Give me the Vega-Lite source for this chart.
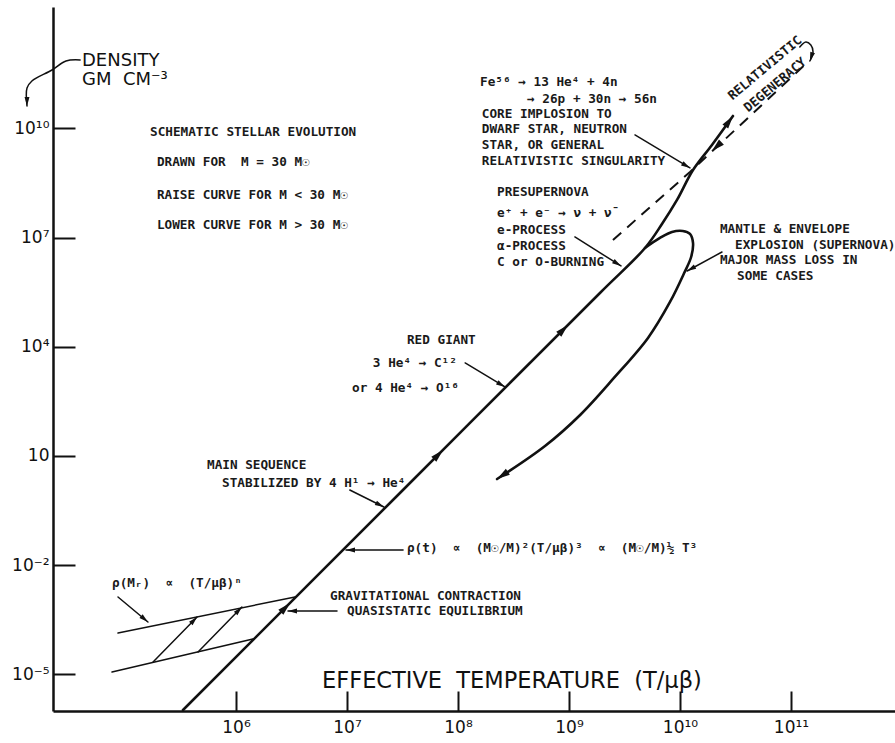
{
  "$schema": "https://vega.github.io/schema/vega-lite/v6.json",
  "width": 842,
  "height": 704,
  "autosize": {"type": "none"},
  "padding": {"left": 53, "top": 7, "right": 0, "bottom": 32},
  "background": "white",
  "config": {
    "view": {"stroke": null},
    "axis": {
      "grid": false,
      "title": null,
      "domainColor": "#111111",
      "domainWidth": 2.5,
      "tickColor": "#111111",
      "tickWidth": 2,
      "labelColor": "#111111",
      "labelFont": "DejaVu Sans",
      "labelFontSize": 17,
      "labelOverlap": false,
      "labelBound": false,
      "labelFlush": false
    }
  },
  "datasets": {
    "curves": [
      {"id": "main", "seq": 1, "T": 3.33e5, "rho": 1.05e-6},
      {"id": "main", "seq": 2, "T": 3.00e7, "rho": 0.963},
      {"id": "main", "seq": 3, "T": 1.90e9, "rho": 3.01e5},
      {"id": "main", "seq": 4, "T": 4.84e9, "rho": 5.18e6},
      {"id": "main", "seq": 5, "T": 6.88e9, "rho": 2.36e7},
      {"id": "main", "seq": 6, "T": 9.40e9, "rho": 1.08e8},
      {"id": "main", "seq": 7, "T": 1.31e10, "rho": 7.19e8},
      {"id": "main", "seq": 8, "T": 1.94e10, "rho": 3.50e9},
      {"id": "main", "seq": 9, "T": 3.00e10, "rho": 2.19e10},
      {"id": "loop", "seq": 1, "T": 4.84e9, "rho": 5.18e6},
      {"id": "loop", "seq": 2, "T": 6.60e9, "rho": 9.75e6},
      {"id": "loop", "seq": 3, "T": 8.47e9, "rho": 1.43e7},
      {"id": "loop", "seq": 4, "T": 1.06e10, "rho": 1.52e7},
      {"id": "loop", "seq": 5, "T": 1.23e10, "rho": 1.26e7},
      {"id": "loop", "seq": 6, "T": 1.31e10, "rho": 7.11e6},
      {"id": "loop", "seq": 7, "T": 1.26e10, "rho": 2.93e6},
      {"id": "loop", "seq": 8, "T": 1.09e10, "rho": 1.06e6},
      {"id": "loop", "seq": 9, "T": 8.13e9, "rho": 1.70e5},
      {"id": "loop", "seq": 10, "T": 5.15e9, "rho": 1.75e4},
      {"id": "loop", "seq": 11, "T": 2.54e9, "rho": 1.39e3},
      {"id": "loop", "seq": 12, "T": 1.26e9, "rho": 134},
      {"id": "loop", "seq": 13, "T": 6.08e8, "rho": 18.8},
      {"id": "loop", "seq": 14, "T": 2.25e8, "rho": 2.33},
      {"id": "dashed", "seq": 1, "T": 2.49e9, "rho": 8.59e6},
      {"id": "dashed", "seq": 2, "T": 1.23e10, "rho": 6.34e8},
      {"id": "dashed", "seq": 3, "T": 1.42e11, "rho": 6.67e11},
      {"id": "hook", "seq": 1, "T": 1.20e11, "rho": 1.72e12},
      {"id": "hook", "seq": 2, "T": 1.36e11, "rho": 2.37e12},
      {"id": "hook", "seq": 3, "T": 1.51e11, "rho": 1.95e12},
      {"id": "hook", "seq": 4, "T": 1.58e11, "rho": 1.26e12},
      {"id": "hook", "seq": 5, "T": 1.48e11, "rho": 7.11e11},
      {"id": "hay_upper", "seq": 1, "T": 8.65e4, "rho": 1.37e-4},
      {"id": "hay_upper", "seq": 2, "T": 3.40e6, "rho": 1.34e-3},
      {"id": "hay_lower", "seq": 1, "T": 7.64e4, "rho": 1.16e-5},
      {"id": "hay_lower", "seq": 2, "T": 1.42e6, "rho": 9.40e-5},
      {"id": "diag1", "seq": 1, "T": 1.79e5, "rho": 2.19e-5},
      {"id": "diag1", "seq": 2, "T": 4.46e5, "rho": 3.78e-4},
      {"id": "diag2", "seq": 1, "T": 4.55e5, "rho": 4.12e-5},
      {"id": "diag2", "seq": 2, "T": 1.13e6, "rho": 7.11e-4},
      {"id": "a_density", "seq": 1, "T": 3.94e4, "rho": 7.57e11},
      {"id": "a_density", "seq": 2, "T": 2.94e4, "rho": 7.11e11},
      {"id": "a_density", "seq": 3, "T": 2.20e4, "rho": 4.02e11},
      {"id": "a_density", "seq": 4, "T": 1.45e4, "rho": 2.00e11},
      {"id": "a_density", "seq": 5, "T": 1.31e4, "rho": 1.29e11},
      {"id": "a_density", "seq": 6, "T": 1.31e4, "rho": 4.12e10},
      {"id": "a_rhoM", "seq": 1, "T": 8.65e4, "rho": 1.34e-3},
      {"id": "a_rhoM", "seq": 2, "T": 1.61e5, "rho": 2.75e-4},
      {"id": "a_grav", "seq": 1, "T": 8.13e6, "rho": 5.52e-4},
      {"id": "a_grav", "seq": 2, "T": 2.94e6, "rho": 5.52e-4},
      {"id": "a_rhot", "seq": 1, "T": 3.20e7, "rho": 2.62e-2},
      {"id": "a_rhot", "seq": 2, "T": 9.79e6, "rho": 2.62e-2},
      {"id": "a_ms", "seq": 1, "T": 1.06e7, "rho": 1.16},
      {"id": "a_ms", "seq": 2, "T": 2.15e7, "rho": 0.397},
      {"id": "a_rg", "seq": 1, "T": 1.16e8, "rho": 3.59e3},
      {"id": "a_rg", "seq": 2, "T": 2.65e8, "rho": 787},
      {"id": "a_core", "seq": 1, "T": 3.93e9, "rho": 6.59e9},
      {"id": "a_core", "seq": 2, "T": 1.23e10, "rho": 8.17e8},
      {"id": "a_presn", "seq": 1, "T": 1.13e9, "rho": 1.04e7},
      {"id": "a_presn", "seq": 2, "T": 2.94e9, "rho": 1.66e6},
      {"id": "a_mantle", "seq": 1, "T": 2.39e10, "rho": 4.02e6},
      {"id": "a_mantle", "seq": 2, "T": 1.16e10, "rho": 1.21e6}
    ],
    "heads": [
      {"kind": "big", "T": 3.07e6, "rho": 9.16e-4, "dir": -45},
      {"kind": "big", "T": 7.33e7, "rho": 14.6, "dir": -45},
      {"kind": "big", "T": 9.79e8, "rho": 3.97e4, "dir": -45},
      {"kind": "big", "T": 3.00e10, "rho": 2.19e10, "dir": -54},
      {"kind": "big", "T": 2.25e8, "rho": 2.33, "dir": 146},
      {"kind": "big", "T": 1.94e10, "rho": 2.39e9, "dir": 137},
      {"kind": "small", "T": 4.46e5, "rho": 3.78e-4, "dir": -46},
      {"kind": "small", "T": 1.13e6, "rho": 7.11e-4, "dir": -46},
      {"kind": "small", "T": 1.48e11, "rho": 7.11e11, "dir": 108},
      {"kind": "small", "T": 1.31e4, "rho": 4.12e10, "dir": 90},
      {"kind": "small", "T": 1.61e5, "rho": 2.75e-4, "dir": 40},
      {"kind": "small", "T": 2.94e6, "rho": 5.52e-4, "dir": 180},
      {"kind": "small", "T": 9.79e6, "rho": 2.62e-2, "dir": 180},
      {"kind": "small", "T": 2.15e7, "rho": 0.397, "dir": 27},
      {"kind": "small", "T": 2.65e8, "rho": 787, "dir": 31},
      {"kind": "small", "T": 1.23e10, "rho": 8.17e8, "dir": 31},
      {"kind": "small", "T": 2.94e9, "rho": 1.66e6, "dir": 32},
      {"kind": "small", "T": 1.16e10, "rho": 1.21e6, "dir": 151}
    ],
    "labels": [
      {"kind": "note", "label": "SCHEMATIC STELLAR EVOLUTION", "T": 1.68e5, "rho": 7.96e9},
      {"kind": "note", "label": "DRAWN FOR\u00a0 M = 30 M☉", "T": 1.94e5, "rho": 1.19e9},
      {"kind": "note", "label": "RAISE CURVE FOR M < 30 M☉", "T": 1.94e5, "rho": 1.48e8},
      {"kind": "note", "label": "LOWER CURVE FOR M > 30 M☉", "T": 1.94e5, "rho": 2.22e7},
      {"kind": "note", "label": "RED GIANT", "T": 3.47e7, "rho": 1.54e4},
      {"kind": "note", "label": "3 He⁴ → C¹²", "T": 1.71e7, "rho": 3.59e3},
      {"kind": "note", "label": "or 4 He⁴ → O¹⁶", "T": 1.11e7, "rho": 738},
      {"kind": "note", "label": "MAIN SEQUENCE", "T": 5.48e5, "rho": 5.66},
      {"kind": "note", "label": "STABILIZED BY 4 H¹ → He⁴", "T": 7.48e5, "rho": 1.81},
      {"kind": "note", "label": "ρ(t)\u00a0 ∝\u00a0 (M☉/M)²(T/μβ)³\u00a0 ∝\u00a0 (M☉/M)½ T³", "T": 3.47e7, "rho": 2.97e-2},
      {"kind": "note", "label": "ρ(Mᵣ)\u00a0 ∝\u00a0 (T/μβ)ⁿ", "T": 7.64e4, "rho": 3.24e-3},
      {"kind": "note", "label": "GRAVITATIONAL CONTRACTION", "T": 7.03e6, "rho": 1.43e-3},
      {"kind": "note", "label": "QUASISTATIC EQUILIBRIUM", "T": 1.0e7, "rho": 5.52e-4},
      {"kind": "note", "label": "Fe⁵⁶ → 13 He⁴ + 4n", "T": 1.58e8, "rho": 1.88e11},
      {"kind": "note", "label": "→ 26p + 30n → 56n", "T": 4.19e8, "rho": 6.43e10},
      {"kind": "note", "label": "CORE IMPLOSION TO", "T": 1.64e8, "rho": 2.49e10},
      {"kind": "note", "label": "DWARF STAR, NEUTRON", "T": 1.64e8, "rho": 9.64e9},
      {"kind": "note", "label": "STAR, OR GENERAL", "T": 1.64e8, "rho": 3.50e9},
      {"kind": "note", "label": "RELATIVISTIC SINGULARITY", "T": 1.64e8, "rho": 1.27e9},
      {"kind": "note", "label": "PRESUPERNOVA", "T": 2.25e8, "rho": 1.79e8},
      {"kind": "note", "label": "e⁺ + e⁻ → ν + ν̄", "T": 2.25e8, "rho": 4.74e7},
      {"kind": "note", "label": "e-PROCESS", "T": 2.25e8, "rho": 1.62e7},
      {"kind": "note", "label": "α-PROCESS", "T": 2.25e8, "rho": 5.87e6},
      {"kind": "note", "label": "C or O-BURNING", "T": 2.25e8, "rho": 2.14e6},
      {"kind": "note", "label": "MANTLE & ENVELOPE", "T": 2.29e10, "rho": 1.72e7},
      {"kind": "note", "label": "EXPLOSION (SUPERNOVA)", "T": 3.13e10, "rho": 6.27e6},
      {"kind": "note", "label": "MAJOR MASS LOSS IN", "T": 2.29e10, "rho": 2.43e6},
      {"kind": "note", "label": "SOME CASES", "T": 3.27e10, "rho": 8.81e5},
      {"kind": "diag", "label": "RELATIVISTIC", "T": 5.83e10, "rho": 4.56e11},
      {"kind": "diag", "label": "DEGENERACY", "T": 7.18e10, "rho": 1.56e11},
      {"kind": "big", "label": "DENSITY", "T": 4.10e4, "rho": 7.11e11},
      {"kind": "big", "label": "GM\u00a0 CM⁻³", "T": 4.10e4, "rho": 2.14e11},
      {"kind": "xtitle", "label": "EFFECTIVE\u00a0 TEMPERATURE\u00a0 (T/μβ)", "T": 5.96e6, "rho": 6.59e-6}
    ]
  },
  "encoding": {
    "x": {
      "field": "T",
      "type": "quantitative",
      "scale": {"type": "log", "domain": [22460, 8.65e11], "nice": false},
      "axis": {
        "values": [1e6, 1e7, 1e8, 1e9, 1e10, 1e11],
        "tickSize": -20,
        "labelPadding": 28,
        "labelBaseline": "top",
        "labelExpr": "datum.value < 5e6 ? '10⁶' : datum.value < 5e7 ? '10⁷' : datum.value < 5e8 ? '10⁸' : datum.value < 5e9 ? '10⁹' : datum.value < 5e10 ? '10¹⁰' : '10¹¹'"
      }
    },
    "y": {
      "field": "rho",
      "type": "quantitative",
      "scale": {"type": "log", "domain": [9.87e-7, 2.16e13], "nice": false},
      "axis": {
        "values": [1e-5, 1e-2, 10, 1e4, 1e7, 1e10],
        "tickSize": -22,
        "labelPadding": 26,
        "labelExpr": "datum.value < 1e-4 ? '10⁻⁵' : datum.value < 0.1 ? '10⁻²' : datum.value < 100 ? '10' : datum.value < 1e5 ? '10⁴' : datum.value < 1e8 ? '10⁷' : '10¹⁰'"
      }
    }
  },
  "layer": [
    {
      "data": {"name": "curves"},
      "transform": [{"filter": "datum.id === 'main' || datum.id === 'loop'"}],
      "mark": {"type": "line", "color": "#111111", "strokeWidth": 2.6, "interpolate": "catmull-rom", "strokeCap": "round", "strokeJoin": "round"},
      "encoding": {"detail": {"field": "id"}, "order": {"field": "seq"}}
    },
    {
      "data": {"name": "curves"},
      "transform": [{"filter": "datum.id !== 'main' && datum.id !== 'loop' && datum.id !== 'dashed'"}],
      "mark": {"type": "line", "color": "#111111", "strokeWidth": 1.5, "interpolate": "catmull-rom", "strokeCap": "round", "strokeJoin": "round"},
      "encoding": {"detail": {"field": "id"}, "order": {"field": "seq"}}
    },
    {
      "data": {"name": "curves"},
      "transform": [{"filter": "datum.id === 'dashed'"}],
      "mark": {"type": "line", "color": "#111111", "strokeWidth": 2, "strokeDash": [11, 8]},
      "encoding": {"detail": {"field": "id"}, "order": {"field": "seq"}}
    },
    {
      "data": {"name": "heads"},
      "transform": [{"filter": "datum.kind === 'big'"}],
      "mark": {"type": "point", "shape": "M0,0L-2,-0.55L-2,0.55Z", "filled": true, "size": 169, "color": "#111111", "opacity": 1},
      "encoding": {"angle": {"field": "dir", "type": "quantitative", "scale": null}}
    },
    {
      "data": {"name": "heads"},
      "transform": [{"filter": "datum.kind === 'small'"}],
      "mark": {"type": "point", "shape": "M0,0L-2,-0.55L-2,0.55Z", "filled": true, "size": 81, "color": "#111111", "opacity": 1},
      "encoding": {"angle": {"field": "dir", "type": "quantitative", "scale": null}}
    },
    {
      "data": {"name": "labels"},
      "transform": [{"filter": "datum.kind === 'note'"}],
      "mark": {"type": "text", "align": "left", "baseline": "middle", "font": "DejaVu Sans Mono", "fontSize": 12.7, "fontWeight": "bold", "color": "#1a1a1a"},
      "encoding": {"text": {"field": "label"}}
    },
    {
      "data": {"name": "labels"},
      "transform": [{"filter": "datum.kind === 'diag'"}],
      "mark": {"type": "text", "align": "center", "baseline": "middle", "angle": 320, "font": "DejaVu Sans Mono", "fontSize": 12.7, "fontWeight": "bold", "color": "#1a1a1a"},
      "encoding": {"text": {"field": "label"}}
    },
    {
      "data": {"name": "labels"},
      "transform": [{"filter": "datum.kind === 'big'"}],
      "mark": {"type": "text", "align": "left", "baseline": "middle", "font": "DejaVu Sans", "fontSize": 18, "color": "#111111"},
      "encoding": {"text": {"field": "label"}}
    },
    {
      "data": {"name": "labels"},
      "transform": [{"filter": "datum.kind === 'xtitle'"}],
      "mark": {"type": "text", "align": "left", "baseline": "middle", "font": "DejaVu Sans", "fontSize": 22.5, "color": "#111111"},
      "encoding": {"text": {"field": "label"}}
    }
  ]
}
